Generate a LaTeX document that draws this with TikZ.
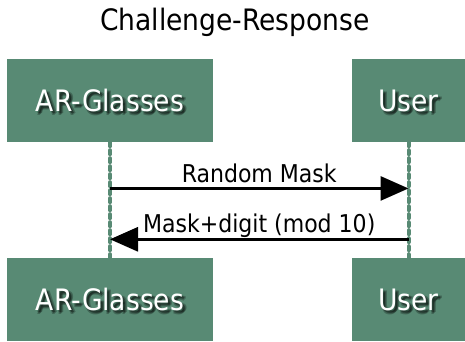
\documentclass[tikz,border=0pt]{standalone}
\usepackage{fontspec}
\setmainfont{DejaVu Sans Condensed}
\usetikzlibrary{arrows.meta,calc,positioning}

\definecolor{actorgreen}{RGB}{88,138,116}

\tikzset{
  actor/.style={fill=actorgreen, draw=none, minimum height=83pt, inner sep=0pt},
  actortext/.style={text=white, font=\fontsize{29.5}{34}\selectfont, inner sep=0pt},
  lifeline/.style={draw=actorgreen, line width=4pt, dash pattern=on 4pt off 4pt, line cap=round},
  msg/.style={line width=3pt, -{Triangle[length=28pt,width=24pt]}},
  msglabel/.style={font=\fontsize{24.5}{29}\selectfont, midway}
}

% box, then a soft dark shadow, then the white label on top
\newcommand\actorbox[4]{%
  \node[actor, minimum width=#3] (#1) at (#2) {};
  \foreach \dx/\dy in {2/-2, 3/-3, 4/-2, 2/-4}
    \node[actortext, text=black, opacity=0.25] at ($(#1)+(\dx,\dy)$) {#4};
  \node[actortext] at (#1) {#4};
}

\begin{document}
\begin{tikzpicture}[x=1pt,y=1pt]
  \useasboundingbox (0,0) rectangle (465,341);

  %%%%% START %%%%%

  \node[font=\fontsize{29.5}{34}\selectfont] (title) at (235,319) {Challenge-Response};

  \actorbox{glasses}{110,240.5}{206pt}{AR-Glasses}
  \actorbox{user}{408.5,240.5}{113pt}{User}
  \actorbox{glassesB}{110,41.5}{206pt}{AR-Glasses}
  \actorbox{userB}{408.5,41.5}{113pt}{User}

  \draw[lifeline] (glasses.south) -- (glassesB.north);
  \draw[lifeline] (user.south) -- (userB.north);

  \coordinate (maskL) at ($(glasses.south)!0.40!(glassesB.north)$);
  \coordinate (maskR) at ($(user.south)!0.40!(userB.north)$);
  \coordinate (replyL) at ($(glasses.south)!0.84!(glassesB.north)$);
  \coordinate (replyR) at ($(user.south)!0.84!(userB.north)$);

  \draw[msg] (maskL) -- (maskR) node[msglabel, above=1pt] {Random Mask};
  \draw[msg] (replyR) -- (replyL) node[msglabel, above=-3pt] {Mask+digit (mod 10)};

  %%%%% END %%%%%
\end{tikzpicture}
\end{document}
